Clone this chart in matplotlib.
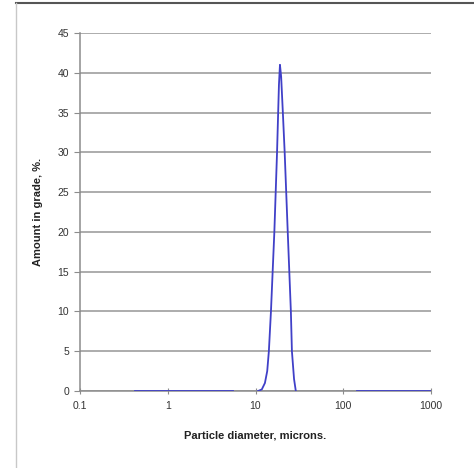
import matplotlib
matplotlib.use('Agg')
import matplotlib.pyplot as plt
from matplotlib.lines import Line2D

plt.rcParams['font.family'] = ['Liberation Sans', 'DejaVu Sans']

# Data (three separate series segments)
seg1_x = [0.42, 5.5]
seg1_y = [0, 0]
peak_x = [10.7, 11.8, 12.8, 13.6, 14.2, 15.0, 16.4, 17.6, 18.5, 19.0, 19.6, 20.5, 21.5, 23.3, 25.3, 26.0, 27.5, 28.8]
peak_y = [0, 0.2, 1.0, 2.5, 5.0, 10.0, 20.0, 30.0, 38.5, 41.0, 39.5, 35.0, 30.0, 20.0, 10.0, 5.0, 1.5, 0]
seg3_x = [144, 1000]
seg3_y = [0, 0]

y_ticks = [0, 5, 10, 15, 20, 25, 30, 35, 40, 45]
x_ticks = [0.1, 1, 10, 100, 1000]
x_labels = ['0.1', '1', '10', '100', '1000']

W, H = 474, 468
fig = plt.figure(figsize=(W / 100, H / 100), dpi=100)
fig.patch.set_facecolor('white')

ax = fig.add_axes([80 / W, (H - 391) / H, (431 - 80) / W, (391 - 33) / H])
line_c = '#4040c8'
for xs, ys in [(seg1_x, seg1_y), (peak_x, peak_y), (seg3_x, seg3_y)]:
    ax.plot(xs, ys, color=line_c, lw=1.3, zorder=3)

ax.set_xscale('log')
ax.set_xlim(0.1, 1000)
ax.set_ylim(0, 45)
ax.set_yticks(y_ticks)
ax.set_yticklabels([str(v) for v in y_ticks])
ax.set_xticks(x_ticks)
ax.set_xticklabels(x_labels)
ax.minorticks_off()

ax.grid(axis='y', color='#969696', lw=1.1)
ax.set_axisbelow(True)
for s in ['top', 'right']:
    ax.spines[s].set_visible(False)
for s in ['left', 'bottom']:
    ax.spines[s].set_color('#8c8c8c')
    ax.spines[s].set_linewidth(1.1)
ax.tick_params(axis='y', direction='out', length=4, color='#8c8c8c', labelsize=7.5, pad=4, labelcolor='#333333')
ax.tick_params(axis='x', direction='inout', length=4, color='#8c8c8c', labelsize=7.5, pad=5, labelcolor='#333333')

ax.set_xlabel('Particle diameter, microns.', fontsize=8, fontweight='bold', color='#222222', labelpad=14)
ax.set_ylabel('Amount in grade, %.', fontsize=8, fontweight='bold', color='#222222', labelpad=10)

# outer frame
fig.add_artist(Line2D([16 / W, 1], [1 - 3 / H, 1 - 3 / H], color='#555555', lw=1.5, transform=fig.transFigure))
fig.add_artist(Line2D([16 / W, 16 / W], [0, 1 - 3 / H], color='#c8c8c8', lw=1, transform=fig.transFigure))

fig.savefig('out.png', dpi=100)
